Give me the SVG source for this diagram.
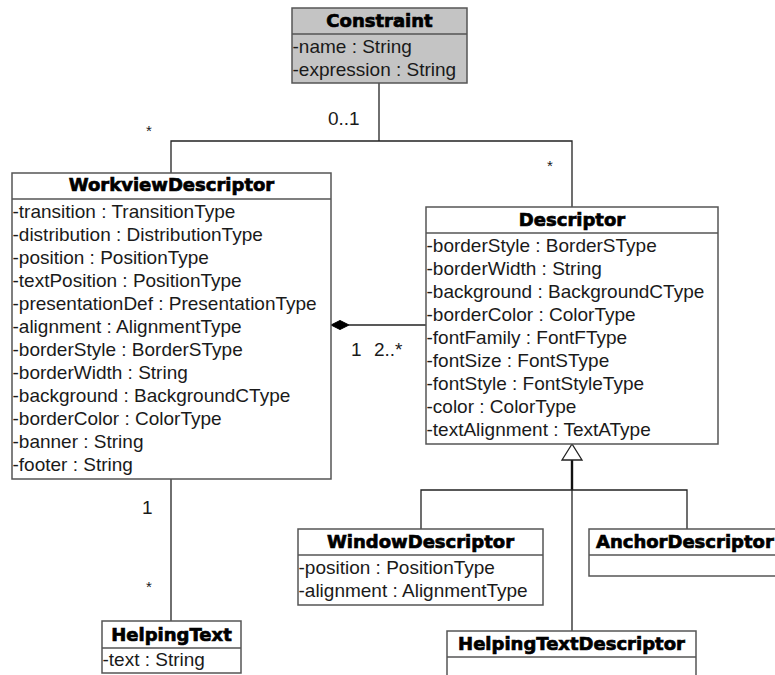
<svg xmlns="http://www.w3.org/2000/svg" width="775" height="675" viewBox="0 0 775 675">
  <style>
    .box { fill: #ffffff; stroke: #555555; stroke-width: 1.5; }
    .gray { fill: #c4c4c4; }
    .sep { stroke: #555555; stroke-width: 1.5; fill: none; }
    .title { font-family: "DejaVu Sans", "Liberation Sans", sans-serif; font-weight: bold; font-size: 18px; text-anchor: middle; fill: #000000; stroke: #000000; stroke-width: 0.7; }
    .attr { font-family: "Liberation Sans", Arial, sans-serif; font-size: 19px; fill: #1a1a1a; }
    .lbl { font-family: "Liberation Sans", Arial, sans-serif; font-size: 19px; fill: #1a1a1a; }
    .star { font-family: "Liberation Sans", Arial, sans-serif; font-size: 15px; fill: #1a1a1a; }
    .conn { fill: none; stroke: #222222; stroke-width: 1.3; }
  </style>
  <rect width="775" height="675" fill="#ffffff"/>

  <!-- connectors -->
  <g id="connectors">
    <!-- Constraint association -->
    <polyline class="conn" points="379,83 379,141"/>
    <polyline class="conn" points="171,173 171,141 572,141 572,207"/>
    <!-- composition WorkviewDescriptor - Descriptor -->
    <line class="conn" x1="349" y1="325" x2="426" y2="325"/>
    <polygon points="331,325 340,320.5 349,325 340,329.5" fill="#000000" stroke="#000000" stroke-width="1"/>
    <!-- WorkviewDescriptor - HelpingText -->
    <line class="conn" x1="171" y1="479" x2="171" y2="621"/>
    <!-- generalization -->
    <line x1="572" y1="460" x2="572" y2="490" stroke="#111111" stroke-width="2.4"/>
    <polyline class="conn" points="421,529 421,490 687,490 687,529"/>
    <line class="conn" x1="572" y1="490" x2="572" y2="631"/>
    <polygon points="572,444 562,460 582,460" fill="#ffffff" stroke="#222222" stroke-width="1.3"/>
    <!-- multiplicities -->
    <text class="lbl" x="328" y="125">0..1</text>
    <text class="star" x="146" y="136">*</text>
    <text class="star" x="547" y="171">*</text>
    <text class="lbl" x="351" y="356">1</text>
    <text class="lbl" x="374" y="356">2..*</text>
    <text class="lbl" x="142" y="514">1</text>
    <text class="star" x="146" y="592">*</text>
  </g>

  <g id="Constraint">
    <rect class="box gray" x="292" y="8" width="175" height="75"/>
    <line class="sep" x1="292" y1="34" x2="467" y2="34"/>
    <text class="title" x="379.5" y="27">Constraint</text>
    <text class="attr" x="292.5" y="53">-name : String</text>
    <text class="attr" x="292.5" y="76">-expression : String</text>
  </g>

  <g id="WorkviewDescriptor">
    <rect class="box" x="12" y="173" width="319" height="306"/>
    <line class="sep" x1="12" y1="199" x2="331" y2="199"/>
    <text class="title" x="171.5" y="191">WorkviewDescriptor</text>
    <text class="attr" x="12.5" y="218">-transition : TransitionType</text>
    <text class="attr" x="12.5" y="241">-distribution : DistributionType</text>
    <text class="attr" x="12.5" y="264">-position : PositionType</text>
    <text class="attr" x="12.5" y="287">-textPosition : PositionType</text>
    <text class="attr" x="12.5" y="310">-presentationDef : PresentationType</text>
    <text class="attr" x="12.5" y="333">-alignment : AlignmentType</text>
    <text class="attr" x="12.5" y="356">-borderStyle : BorderSType</text>
    <text class="attr" x="12.5" y="379">-borderWidth : String</text>
    <text class="attr" x="12.5" y="402">-background : BackgroundCType</text>
    <text class="attr" x="12.5" y="425">-borderColor : ColorType</text>
    <text class="attr" x="12.5" y="448">-banner : String</text>
    <text class="attr" x="12.5" y="471">-footer : String</text>
  </g>

  <g id="Descriptor">
    <rect class="box" x="426" y="207" width="292" height="237"/>
    <line class="sep" x1="426" y1="233" x2="718" y2="233"/>
    <text class="title" x="572" y="226">Descriptor</text>
    <text class="attr" x="426.5" y="252">-borderStyle : BorderSType</text>
    <text class="attr" x="426.5" y="275">-borderWidth : String</text>
    <text class="attr" x="426.5" y="298">-background : BackgroundCType</text>
    <text class="attr" x="426.5" y="321">-borderColor : ColorType</text>
    <text class="attr" x="426.5" y="344">-fontFamily : FontFType</text>
    <text class="attr" x="426.5" y="367">-fontSize : FontSType</text>
    <text class="attr" x="426.5" y="390">-fontStyle : FontStyleType</text>
    <text class="attr" x="426.5" y="413">-color : ColorType</text>
    <text class="attr" x="426.5" y="436">-textAlignment : TextAType</text>
  </g>

  <g id="HelpingText">
    <rect class="box" x="102" y="621" width="139" height="52"/>
    <line class="sep" x1="102" y1="648" x2="241" y2="648"/>
    <text class="title" x="171.5" y="641">HelpingText</text>
    <text class="attr" x="102.5" y="666">-text : String</text>
  </g>

  <g id="WindowDescriptor">
    <rect class="box" x="298" y="529" width="245" height="76"/>
    <line class="sep" x1="298" y1="555" x2="543" y2="555"/>
    <text class="title" x="420.5" y="548">WindowDescriptor</text>
    <text class="attr" x="298.5" y="574">-position : PositionType</text>
    <text class="attr" x="298.5" y="597">-alignment : AlignmentType</text>
  </g>

  <g id="AnchorDescriptor">
    <rect class="box" x="589" y="529" width="200" height="47"/>
    <line class="sep" x1="589" y1="555" x2="789" y2="555"/>
    <text class="title" x="596" y="548" style="text-anchor:start">AnchorDescriptor</text>
  </g>

  <g id="HelpingTextDescriptor">
    <rect class="box" x="447" y="631" width="249" height="60"/>
    <line class="sep" x1="447" y1="657" x2="696" y2="657"/>
    <text class="title" x="571.5" y="650">HelpingTextDescriptor</text>
  </g>
</svg>
